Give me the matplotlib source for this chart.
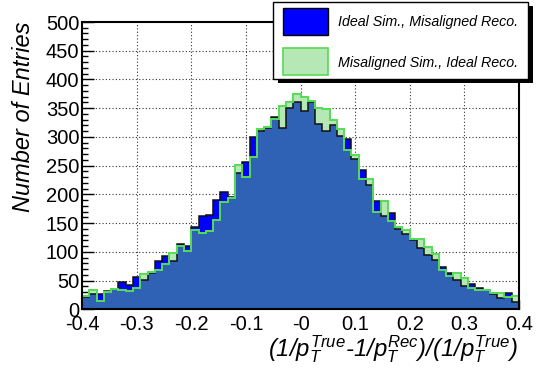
import numpy as np
import matplotlib
matplotlib.use("Agg")
import matplotlib.pyplot as plt
from matplotlib.patches import Rectangle
from matplotlib.ticker import MultipleLocator

plt.rcParams['font.family'] = ['Liberation Sans', 'DejaVu Sans']
plt.rcParams['mathtext.fontset'] = 'custom'
plt.rcParams['mathtext.it'] = 'Liberation Sans:italic'
plt.rcParams['mathtext.rm'] = 'Liberation Sans:italic'
plt.rcParams['mathtext.default'] = 'it'

# ---- data ----
x_min, x_max, n_bins = -0.4, 0.4, 60
ideal_sim_misaligned_reco = [
    21, 27, 27, 32, 35, 47, 43, 57, 52, 64,
    85, 93, 85, 113, 110, 143, 163, 165, 191, 204,
    196, 237, 256, 300, 310, 316, 334, 315, 351, 360,
    345, 360, 322, 310, 320, 301, 297, 261, 242, 217,
    188, 162, 168, 140, 131, 120, 106, 95, 86, 73,
    63, 52, 40, 44, 37, 34, 26, 19, 28, 13]
misaligned_sim_ideal_reco = [
    24, 33, 15, 31, 36, 34, 32, 38, 61, 65,
    69, 79, 98, 110, 101, 138, 133, 137, 156, 186,
    194, 252, 231, 265, 313, 318, 331, 354, 360, 375,
    370, 363, 351, 349, 330, 314, 278, 269, 227, 227,
    169, 188, 153, 144, 138, 122, 122, 109, 97, 69,
    58, 64, 54, 37, 34, 34, 29, 28, 22, 23]
x_ticks = [-0.4, -0.3, -0.2, -0.1, 0.0, 0.1, 0.2, 0.3, 0.4]
x_tick_labels = ['-0.4', '-0.3', '-0.2', '-0.1', '-0', '0.1', '0.2', '0.3', '0.4']
y_ticks = list(range(0, 501, 50))
legend_labels = ['Ideal Sim., Misaligned Reco.', 'Misaligned Sim., Ideal Reco.']

W, H = 543, 378
fig = plt.figure(figsize=(W / 100, H / 100), dpi=100)

def fx(px):
    return px / W

def fy(py):
    return 1 - py / H

ax = fig.add_axes([fx(82), fy(309.4), fx(519) - fx(82), fy(22) - fy(309.4)])

edges = np.linspace(x_min, x_max, n_bins + 1)
blue = np.array(ideal_sim_misaligned_reco, dtype=float)
green = np.array(misaligned_sim_ideal_reco, dtype=float)

BLUE = '#0000ff'
LIGHTGREEN = '#b6e8b6'
MIX = '#2f62b4'
GREENLINE = '#55dd55'

ax.stairs(green, edges, fill=True, color=LIGHTGREEN, zorder=2, lw=0)
ax.stairs(blue, edges, fill=True, color=BLUE, zorder=3, lw=0)
ax.stairs(np.minimum(blue, green), edges, fill=True, color=MIX, zorder=4, lw=0)
ax.stairs(blue, edges, fill=False, color='#111111', lw=1.1, zorder=5, baseline=None)
ax.stairs(green, edges, fill=False, color=GREENLINE, lw=1.4, zorder=6, baseline=None)

ax.set_xlim(x_min, x_max)
ax.set_ylim(0, 500)

ax.set_xticks(x_ticks)
ax.set_xticklabels(x_tick_labels)
ax.set_yticks(y_ticks)
ax.xaxis.set_minor_locator(MultipleLocator(0.02))
ax.yaxis.set_minor_locator(MultipleLocator(10))
ax.tick_params(axis='both', which='both', direction='in', top=False, right=False,
               labelsize=14.5, colors='black')
ax.tick_params(axis='x', which='major', length=6.5, width=1, pad=4)
ax.tick_params(axis='x', which='minor', length=3.5, width=1)
ax.tick_params(axis='y', which='major', length=8.6, width=1, pad=2)
ax.tick_params(axis='y', which='minor', length=4.3, width=1)

for v in x_ticks[1:-1]:
    ax.axvline(v, color='#333333', ls=(0, (1, 2)), lw=0.8, zorder=1)
for v in y_ticks[1:-1]:
    ax.axhline(v, color='#333333', ls=(0, (1, 2)), lw=0.8, zorder=1)

for s in ax.spines.values():
    s.set_linewidth(1.5)
    s.set_zorder(10)

fig.text(fx(24), fy(21), 'Number of Entries', rotation=90, ha='center', va='top',
         fontsize=17, style='italic')
fig.text(fx(518), fy(349),
         '$(1/p_{T}^{True}\u20101/p_{T}^{Rec})/(1/p_{T}^{True})$',
         ha='right', va='center', fontsize=17.2)

# ---- legend ----
lx0, lx1, ly0, ly1 = 273, 528, 2, 79
fig.add_artist(Rectangle((fx(lx0 + 5), fy(ly1 + 4)), fx(lx1) - fx(lx0), fy(ly0) - fy(ly1),
                         transform=fig.transFigure, facecolor='black', edgecolor='none', zorder=20))
fig.add_artist(Rectangle((fx(lx0), fy(ly1)), fx(lx1) - fx(lx0), fy(ly0) - fy(ly1),
                         transform=fig.transFigure, facecolor='white', edgecolor='black',
                         lw=1, zorder=21))
fig.add_artist(Rectangle((fx(283), fy(35)), fx(328) - fx(283), fy(8) - fy(35),
                         transform=fig.transFigure, facecolor=BLUE, edgecolor='black',
                         lw=1, zorder=22))
fig.add_artist(Rectangle((fx(283), fy(75)), fx(328) - fx(283), fy(48) - fy(75),
                         transform=fig.transFigure, facecolor=LIGHTGREEN, edgecolor=GREENLINE,
                         lw=1.2, zorder=22))
fig.text(fx(338), fy(22), legend_labels[0], ha='left', va='center', fontsize=10.3,
         style='italic', zorder=23)
fig.text(fx(338), fy(63), legend_labels[1], ha='left', va='center', fontsize=10.3,
         style='italic', zorder=23)

fig.savefig('out.png', dpi=100)
